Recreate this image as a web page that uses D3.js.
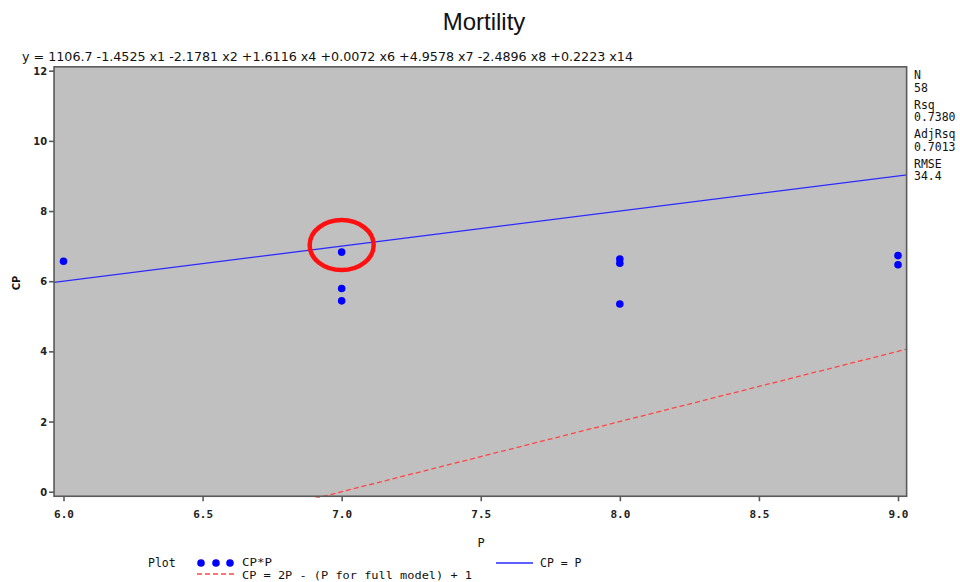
<!DOCTYPE html>
<html>
<head>
<meta charset="utf-8">
<script src="https://cdn.jsdelivr.net/npm/d3@7/dist/d3.min.js"></script>
<style>
  html, body { margin: 0; padding: 0; background: #ffffff; }
  svg { display: block; }
  .mono { font-family: "DejaVu Sans Mono", "Liberation Mono", monospace; }
</style>
</head>
<body>
<svg id="chart" width="960" height="582"></svg>
<script>
// Cp statistic per number of parameters for the candidate models
const pValues  = [6, 7, 7, 7, 8, 8, 8, 9, 9];
const cpValues = [6.57, 6.83, 5.79, 5.44, 6.63, 6.51, 5.35, 6.73, 6.47];

// Highlighted model
const highlightP  = 7;
const highlightCP = 7.03;

// Axis ticks
const xTicks = [6.0, 6.5, 7.0, 7.5, 8.0, 8.5, 9.0];
const yTicks = [0, 2, 4, 6, 8, 10, 12];

// Reference lines: CP = P and CP = 2P - (P for full model) + 1
const fullModelP = 15;
const refP = [5.9, 9.1];

// Fit summary
const statLabels = ["N", "Rsq", "AdjRsq", "RMSE"];
const statValues = ["58", "0.7380", "0.7013", "34.4"];

const title = "Mortility";
const equation = "y = 1106.7 -1.4525 x1 -2.1781 x2 +1.6116 x4 +0.0072 x6 +4.9578 x7 -2.4896 x8 +0.2223 x14";

const svg = d3.select("#chart");

const x = d3.scaleLinear().domain([6, 9]).range([63.5, 898]);
const y = d3.scaleLinear().domain([0, 12]).range([491.7, 70.7]);

// plot frame bounds (slightly beyond the tick range)
const frame = { left: x(5.966), right: x(9.031), top: y(12.11), bottom: y(-0.13) };

svg.append("defs").append("clipPath").attr("id", "plotClip")
  .append("rect")
  .attr("x", frame.left).attr("y", frame.top)
  .attr("width", frame.right - frame.left).attr("height", frame.bottom - frame.top + 1.5);

// title
svg.append("text")
  .attr("x", 484).attr("y", 30)
  .attr("text-anchor", "middle")
  .attr("font-family", "Liberation Sans, Arial, sans-serif")
  .attr("font-size", 24)
  .attr("fill", "#111")
  .text(title);

// model equation
svg.append("text")
  .attr("x", 22).attr("y", 61)
  .attr("font-family", "DejaVu Sans Condensed, DejaVu Sans, sans-serif")
  .attr("font-size", 11.5)
  .attr("textLength", 611)
  .attr("lengthAdjust", "spacingAndGlyphs")
  .attr("fill", "#111")
  .text(equation);

// background
svg.append("rect")
  .attr("x", frame.left).attr("y", frame.top)
  .attr("width", frame.right - frame.left).attr("height", frame.bottom - frame.top)
  .attr("fill", "#c0c0c0");

const plot = svg.append("g").attr("clip-path", "url(#plotClip)");

// CP = P
plot.append("line")
  .attr("x1", x(refP[0])).attr("y1", y(refP[0]))
  .attr("x2", x(refP[1])).attr("y2", y(refP[1]))
  .attr("stroke", "#2a2aff").attr("stroke-width", 1.3);

// CP = 2P - (P for full model) + 1
const redCP = p => 2 * p - fullModelP + 1;
plot.append("line")
  .attr("x1", x(refP[0])).attr("y1", y(redCP(refP[0])))
  .attr("x2", x(refP[1])).attr("y2", y(redCP(refP[1])))
  .attr("stroke", "#ff4545").attr("stroke-width", 1.3)
  .attr("stroke-dasharray", "5,3");

// points
plot.selectAll("circle.pt")
  .data(pValues.map((p, i) => ({ p, cp: cpValues[i] })))
  .enter().append("circle")
  .attr("class", "pt")
  .attr("cx", d => x(d.p)).attr("cy", d => y(d.cp))
  .attr("r", 3.8)
  .attr("fill", "#0000ff");

// frame
const frameColor = "#5a5a5a";
svg.append("rect")
  .attr("x", frame.left).attr("y", frame.top)
  .attr("width", frame.right - frame.left).attr("height", frame.bottom - frame.top)
  .attr("fill", "none").attr("stroke", frameColor).attr("stroke-width", 1.6);

// highlight ring
svg.append("ellipse")
  .attr("cx", x(highlightP)).attr("cy", y(highlightCP))
  .attr("rx", 32).attr("ry", 25)
  .attr("fill", "none").attr("stroke", "#ff1010").attr("stroke-width", 4.5);

// x axis
const xAxis = d3.axisBottom(x).tickValues(xTicks).tickFormat(d3.format(".1f"))
  .tickSize(5).tickSizeOuter(0);
const gx = svg.append("g").attr("transform", `translate(0,${frame.bottom})`).call(xAxis);
gx.select(".domain").remove();
gx.selectAll(".tick line").attr("stroke", frameColor).attr("stroke-width", 1.6);
gx.selectAll(".tick text")
  .attr("class", "mono").attr("font-size", 11).attr("font-weight", "bold")
  .attr("fill", "#222").attr("dy", "1.25em");

// y axis
const yAxis = d3.axisLeft(y).tickValues(yTicks).tickFormat(d3.format("d"))
  .tickSize(5).tickSizeOuter(0);
const gy = svg.append("g").attr("transform", `translate(${frame.left},0)`).call(yAxis);
gy.select(".domain").remove();
gy.selectAll(".tick line").attr("stroke", frameColor).attr("stroke-width", 1.6);
gy.selectAll(".tick text")
  .attr("font-family", "DejaVu Sans Condensed, DejaVu Sans, sans-serif")
  .attr("font-size", 11).attr("font-weight", "bold")
  .attr("fill", "#222").attr("x", -7);

// axis titles
svg.append("text")
  .attr("transform", "translate(20,283) rotate(-90)")
  .attr("text-anchor", "middle")
  .attr("font-family", "DejaVu Sans Condensed, DejaVu Sans, sans-serif")
  .attr("font-size", 11).attr("font-weight", "bold")
  .attr("fill", "#111")
  .text("CP");

svg.append("text")
  .attr("x", 481).attr("y", 547)
  .attr("text-anchor", "middle")
  .attr("class", "mono").attr("font-size", 12)
  .attr("fill", "#111")
  .text("P");

// fit summary on the right
const statG = svg.append("g").attr("class", "mono").attr("font-size", 11.5).attr("fill", "#111");
statLabels.forEach((lab, i) => {
  const base = 79 + i * 29.5;
  statG.append("text").attr("x", 914).attr("y", base).text(lab);
  statG.append("text").attr("x", 914).attr("y", base + 12.5).text(statValues[i]);
});

// legend
const leg = svg.append("g").attr("class", "mono").attr("font-size", 10.5).attr("fill", "#111");
leg.append("text").attr("x", 148).attr("y", 566.5).attr("font-size", 11.5).text("Plot");
[201, 216, 230].forEach(cx => {
  leg.append("circle").attr("cx", cx).attr("cy", 563).attr("r", 3.8).attr("fill", "#0000ff");
});
leg.append("text").attr("x", 242).attr("y", 566)
  .attr("textLength", 30).attr("lengthAdjust", "spacingAndGlyphs").text("CP*P");
leg.append("line")
  .attr("x1", 197).attr("x2", 234).attr("y1", 574).attr("y2", 574)
  .attr("stroke", "#ff4545").attr("stroke-width", 1.3).attr("stroke-dasharray", "5,3");
leg.append("text").attr("x", 242).attr("y", 579)
  .attr("textLength", 230).attr("lengthAdjust", "spacingAndGlyphs")
  .text("CP = 2P - (P for full model) + 1");
leg.append("line")
  .attr("x1", 496).attr("x2", 533).attr("y1", 563).attr("y2", 563)
  .attr("stroke", "#2a2aff").attr("stroke-width", 1.3);
leg.append("text").attr("x", 540).attr("y", 566.5).attr("font-size", 11.5).text("CP = P");
</script>
</body>
</html>
